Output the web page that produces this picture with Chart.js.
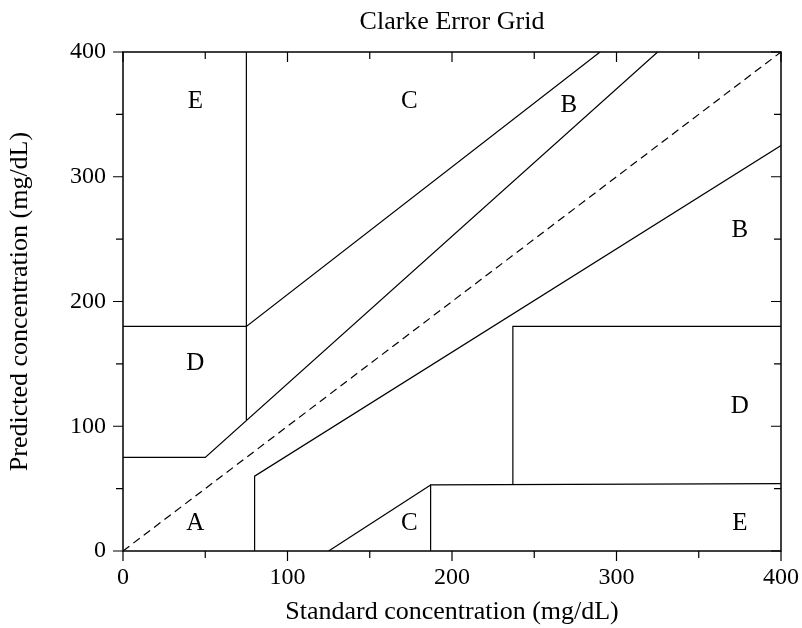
<!DOCTYPE html>
<html>
<head>
<meta charset="utf-8">
<title>Clarke Error Grid</title>
<script src="https://cdn.jsdelivr.net/npm/chart.js@4.4.1/dist/chart.umd.min.js"></script>
<style>
  html, body { margin: 0; padding: 0; background: #fff; }
  #wrap { width: 802px; height: 628px; }
</style>
</head>
<body>
<div id="wrap"><canvas id="grid"></canvas></div>
<script>
// Clarke Error Grid – zone boundaries (mg/dL)

// axis ticks
const tickValues = [0, 50, 100, 150, 200, 250, 300, 350, 400];
const majorTicks = [0, 100, 200, 300, 400];

// boundary lines, each a list of [standard, predicted]
const identityLine = [[0, 0], [400, 400]];
const upperA = [[0, 75], [50, 75], [325, 400]];
const upperCD = [[75, 105], [75, 400]];
const upperE = [[0, 180], [75, 180], [290, 400]];
const lowerA = [[80, 0], [80, 60], [400, 325]];
const lowerC = [[125, 0], [187, 53]];
const lowerE = [[187, 0], [187, 53], [400, 54]];
const lowerD = [[237, 53], [237, 180], [400, 180]];

// zone letters
const zoneLetters = ["E", "C", "B", "B", "D", "D", "A", "C", "E"];
const zoneX = [44, 174, 271, 375, 44, 375, 44, 174, 375];
const zoneY = [360, 360, 357, 257, 150, 116, 22, 22, 22];

const FONT = "'Liberation Serif', 'DejaVu Serif', serif";

function paraPontos(lista) {
  return lista.map(p => ({ x: p[0], y: p[1] }));
}

function linha(lista, tracejado) {
  return {
    data: paraPontos(lista),
    showLine: true,
    borderColor: "#000",
    borderWidth: 1.2,
    borderDash: tracejado ? [8, 5] : [],
    pointRadius: 0,
    fill: false,
    tension: 0,
  };
}

// frame, inward/outward tick marks and zone letters
const gridExtras = {
  id: "gridExtras",
  afterDatasetsDraw(chart) {
    const { ctx, chartArea: a, scales: { x, y } } = chart;
    ctx.save();
    ctx.strokeStyle = "#000";
    ctx.lineWidth = 1.5;
    ctx.strokeRect(a.left, a.top, a.right - a.left, a.bottom - a.top);

    ctx.lineWidth = 1.2;
    ctx.beginPath();
    tickValues.forEach(v => {
      const len = majorTicks.includes(v) ? 10 : 7;
      const px = x.getPixelForValue(v);
      const py = y.getPixelForValue(v);
      // bottom & left: outward
      ctx.moveTo(px, a.bottom); ctx.lineTo(px, a.bottom + len);
      ctx.moveTo(a.left, py); ctx.lineTo(a.left - len, py);
      // top & right: inward
      ctx.moveTo(px, a.top); ctx.lineTo(px, a.top + len);
      ctx.moveTo(a.right, py); ctx.lineTo(a.right - len, py);
    });
    ctx.stroke();

    ctx.fillStyle = "#000";
    ctx.font = "25px " + FONT;
    ctx.textAlign = "center";
    ctx.textBaseline = "middle";
    zoneLetters.forEach((t, i) => {
      ctx.fillText(t, x.getPixelForValue(zoneX[i]), y.getPixelForValue(zoneY[i]));
    });
    ctx.restore();
  }
};

const ctx = document.getElementById("grid").getContext("2d");

new Chart(ctx, {
  type: "scatter",
  data: {
    datasets: [
      linha(identityLine, true),
      linha(upperA),
      linha(upperCD),
      linha(upperE),
      linha(lowerA),
      linha(lowerC),
      linha(lowerE),
      linha(lowerD),
    ]
  },
  options: {
    responsive: true,
    maintainAspectRatio: false,
    animation: false,
    layout: { padding: { top: 0, right: 21, bottom: 0, left: 0 } },
    plugins: {
      legend: { display: false },
      tooltip: { enabled: false },
      title: {
        display: true,
        text: "Clarke Error Grid",
        fullSize: false,
        color: "#000",
        font: { family: FONT, size: 26, weight: "normal" },
        padding: { top: 7, bottom: 13.8 },
      },
    },
    scales: {
      x: {
        type: "linear",
        min: 0,
        max: 400,
        grid: { display: false, drawTicks: false },
        border: { display: false },
        ticks: {
          stepSize: 100,
          color: "#000",
          maxRotation: 0,
          padding: 12,
          font: { family: FONT, size: 24 },
        },
        title: {
          display: true,
          text: "Standard concentration (mg/dL)",
          color: "#000",
          font: { family: FONT, size: 26 },
          padding: { top: 0, bottom: 0 },
        },
        afterFit(scale) {
          scale.height = 77;
          scale.paddingLeft = 0;
          scale.paddingRight = 0;
        },
      },
      y: {
        type: "linear",
        min: 0,
        max: 400,
        grid: { display: false, drawTicks: false },
        border: { display: false },
        ticks: {
          stepSize: 100,
          color: "#000",
          padding: 17,
          font: { family: FONT, size: 24 },
        },
        title: {
          display: true,
          text: "Predicted concentration (mg/dL)",
          color: "#000",
          font: { family: FONT, size: 26 },
          padding: { top: 5, bottom: 0 },
        },
        afterFit(scale) {
          scale.width = 123;
          scale.paddingTop = 0;
          scale.paddingBottom = 0;
        },
      },
    },
  },
  plugins: [gridExtras],
});
</script>
</body>
</html>
